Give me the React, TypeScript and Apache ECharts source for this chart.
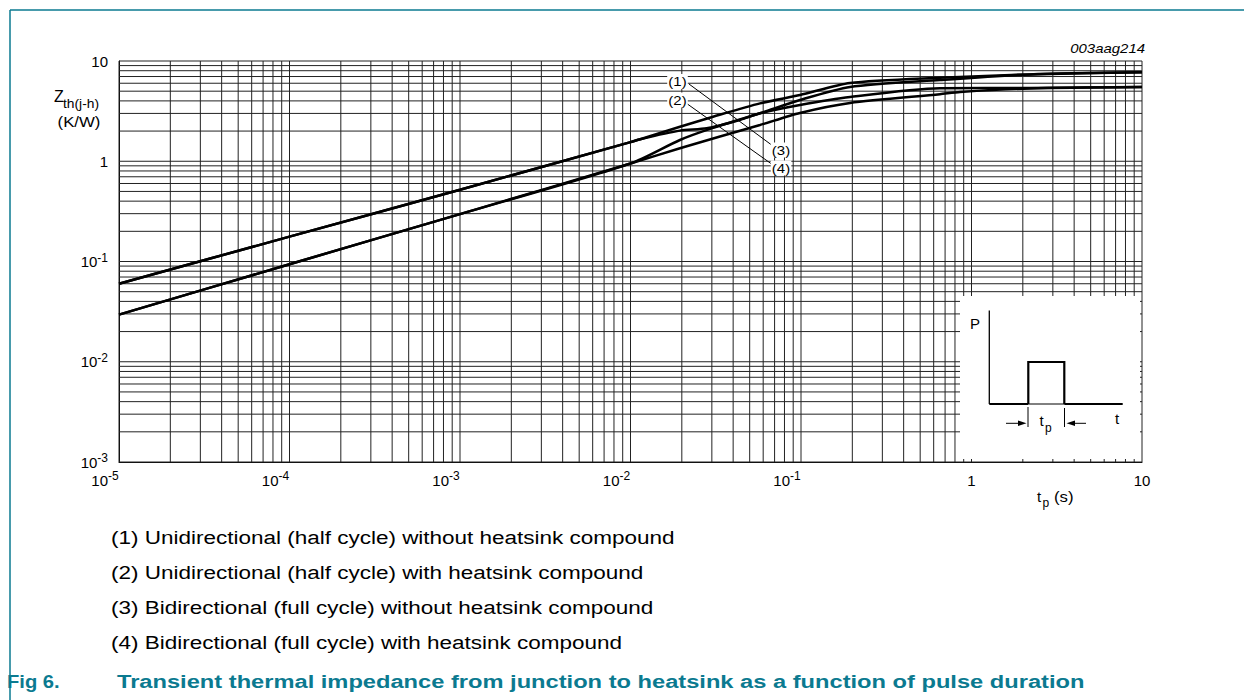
import React, { useEffect, useRef } from 'react';
import * as echarts from 'echarts';

const FONT = '"Liberation Sans", Arial, Helvetica, sans-serif';
const TEAL = '#0b7a90';

// axis limits and decades (exponents of ten) and grid multipliers
const xMin = 1e-5;
const xMax = 10;
const yMin = 1e-3;
const yMax = 10;
const xTickExps = [-5, -4, -3, -2, -1, 0, 1];
const yTickExps = [-3, -2, -1, 0, 1];
const gridMultipliers = [1, 2, 3, 4, 5, 6, 7, 8, 9];

// curve data: pulse duration t_p (s) -> Zth(j-h) (K/W)
const tUniNo = [1e-5, 1e-4, 1e-3, 0.01, 0.0114, 0.0195, 0.0305, 0.0575, 0.0986, 0.194, 0.653, 2.2, 10];
const zUniNo = [0.06, 0.177, 0.52, 1.55, 1.66, 2.21, 2.78, 3.78, 4.58, 6.04, 6.81, 7.35, 7.71];

const tUniWith = [1e-5, 1e-4, 1e-3, 0.01, 0.0114, 0.0195, 0.028, 0.0438, 0.0575, 0.0986, 0.194, 0.653, 2.2, 10];
const zUniWith = [0.06, 0.177, 0.52, 1.55, 1.66, 2.02, 2.13, 2.58, 3.01, 3.64, 4.38, 5.35, 5.38, 5.5];

const tBiNo = [1e-5, 1e-4, 1e-3, 0.01, 0.0195, 0.0305, 0.0575, 0.0986, 0.194, 0.653, 2.2, 10];
const zBiNo = [0.0295, 0.094, 0.297, 0.95, 1.63, 2.15, 3.01, 4.08, 5.51, 6.46, 7.35, 7.71];

const tBiWith = [1e-5, 1e-4, 1e-3, 0.01, 0.0195, 0.0575, 0.0986, 0.194, 0.653, 0.857, 2.2, 10];
const zBiWith = [0.0295, 0.094, 0.297, 0.95, 1.35, 2.3, 3.03, 3.81, 4.66, 4.91, 5.33, 5.5];

const curveNames = ['(1)', '(2)', '(3)', '(4)'];
const legendLines = [
  '(1) Unidirectional (half cycle) without heatsink compound',
  '(2) Unidirectional (half cycle) with heatsink compound',
  '(3) Bidirectional (full cycle) without heatsink compound',
  '(4) Bidirectional (full cycle) with heatsink compound',
];
const captionLabel = 'Fig 6.';
const captionText = 'Transient thermal impedance from junction to heatsink as a function of pulse duration';
const figureCode = '003aag214';

function gridValues(exps: number[]) {
  const out: number[] = [];
  for (let i = 0; i < exps.length - 1; i++) {
    for (const m of gridMultipliers) out.push(m * Math.pow(10, exps[i]));
  }
  out.push(Math.pow(10, exps[exps.length - 1]));
  return out;
}

function txt(x: number, y: number, text: string, o: any = {}) {
  return {
    type: 'text',
    x,
    y,
    z: 110,
    scaleX: o.scaleX ?? 1,
    silent: true,
    style: {
      text,
      fontFamily: FONT,
      fontSize: o.fontSize ?? 14,
      fontWeight: o.fontWeight ?? 'normal',
      fontStyle: o.fontStyle ?? 'normal',
      fill: o.fill ?? '#000',
      align: o.align ?? 'left',
      verticalAlign: 'middle',
      backgroundColor: o.bg,
      padding: o.bg ? [1, 1] : undefined,
    },
  };
}

function seg(x1: number, y1: number, x2: number, y2: number, w = 1, color = '#000', z = 105) {
  return { type: 'line', z, silent: true, shape: { x1, y1, x2, y2 }, style: { stroke: color, lineWidth: w } };
}

export default function App() {
  const ref = useRef<HTMLDivElement>(null);

  useEffect(() => {
    const chart = echarts.init(ref.current!, null, { renderer: 'svg' });

    const labelRich = {
      b: { fontSize: 15, fontFamily: FONT, color: '#000', lineHeight: 20 },
      s: { fontSize: 12, fontFamily: FONT, color: '#000', lineHeight: 10, verticalAlign: 'top' },
      q: { width: 28, fontSize: 15, lineHeight: 20 },
    };
    // x labels: powers below 1 sit to the left of their tick, 1 and 10 are centred on it
    const fmtX = (v: number) => {
      const e = Math.round(Math.log10(v));
      if (xTickExps.indexOf(e) < 0) return '';
      if (e === 0) return '{b|1}';
      if (e === 1) return '{b|10}';
      return '{b|10}{s|' + e + '}{q| }';
    };
    const fmtY = (v: number) => {
      const e = Math.round(Math.log10(v));
      if (yTickExps.indexOf(e) < 0) return '';
      if (e === 0) return '{b|1}';
      if (e === 1) return '{b|10}';
      return '{b|10}{s|' + e + '}';
    };

    const vGrid = gridValues(xTickExps);
    const hGrid = gridValues(yTickExps);

    const mk = (t: number[], z: number[], name: string) => ({
      type: 'line',
      name,
      data: t.map((tv, i) => [tv, z[i]]),
      showSymbol: false,
      symbol: 'none',
      smooth: 0.25,
      silent: true,
      z: 5,
      lineStyle: { color: '#000', width: 2.5 },
    });

    const graphics: any[] = [
      // page frame
      seg(10, 10, 1244, 10, 1.5, TEAL, 120),
      seg(10, 10, 10, 700, 1.5, TEAL, 120),
      // inset background
      { type: 'rect', z: 100, silent: true, shape: { x: 960, y: 296, width: 180, height: 163 }, style: { fill: '#fff' } },
      // inset drawing
      seg(989.3, 310.5, 989.3, 404, 1.3),
      seg(989.3, 404, 1028.3, 404, 2.2),
      seg(1028.3, 404, 1064.3, 404, 1),
      seg(1064.3, 404, 1122.7, 404, 2.2),
      {
        type: 'polyline', z: 105, silent: true,
        shape: { points: [[1028.3, 404], [1028.3, 362], [1064.3, 362], [1064.3, 404]] },
        style: { stroke: '#000', lineWidth: 2.2, fill: null },
      },
      seg(1006, 423.3, 1019, 423.3, 1),
      { type: 'polygon', z: 105, silent: true, shape: { points: [[1026.5, 423.3], [1018, 420.6], [1018, 426]] }, style: { fill: '#000' } },
      seg(1028, 407, 1028, 427, 1),
      seg(1064.5, 408, 1064.5, 427, 1),
      { type: 'polygon', z: 105, silent: true, shape: { points: [[1066.5, 423.3], [1075, 420.6], [1075, 426]] }, style: { fill: '#000' } },
      seg(1074, 423.3, 1086, 423.3, 1),
      txt(970, 323, 'P', { fontSize: 15 }),
      txt(1115, 418, 't', { fontSize: 15 }),
      txt(1039.5, 420, 't', { fontSize: 15 }),
      txt(1045, 428, 'p', { fontSize: 12 }),
      // leader lines and curve labels
      seg(689, 84, 773, 146, 1, '#000', 104),
      seg(686, 103, 773, 165, 1, '#000', 104),
      txt(677.5, 81.5, curveNames[0], { fontSize: 13, align: 'center', scaleX: 1.15, bg: '#fff' }),
      txt(677.5, 100, curveNames[1], { fontSize: 13, align: 'center', scaleX: 1.15, bg: '#fff' }),
      txt(781, 150, curveNames[2], { fontSize: 13, align: 'center', scaleX: 1.15, bg: '#fff' }),
      txt(781, 168, curveNames[3], { fontSize: 13, align: 'center', scaleX: 1.15, bg: '#fff' }),
      // axis titles
      txt(54, 96, 'Z', { fontSize: 16 }),
      txt(63, 104, 'th(j-h)', { fontSize: 12, scaleX: 1.15 }),
      txt(79, 122, '(K/W)', { fontSize: 15, align: 'center', scaleX: 1.12 }),
      txt(1037, 496, 't', { fontSize: 15 }),
      txt(1042.5, 503, 'p', { fontSize: 12 }),
      txt(1054, 497, '(s)', { fontSize: 15, scaleX: 1.12 }),
      txt(1145, 48, figureCode, { fontSize: 13, fontStyle: 'italic', align: 'right', scaleX: 1.15 }),
      // legend lines
      ...legendLines.map((l, i) => txt(111, [538, 573, 608, 643][i], l, { fontSize: 18, scaleX: 1.25 })),
      // caption
      txt(7, 682, captionLabel, { fontSize: 18, fontWeight: 'bold', fill: TEAL, scaleX: 1.12 }),
      txt(117, 682, captionText, { fontSize: 18, fontWeight: 'bold', fill: TEAL, scaleX: 1.315 }),
    ];

    const gridData = [
      ...vGrid.map((v) => [v, yMin, 0]),
      ...hGrid.map((v) => [xMin, v, 1]),
    ];

    const option: any = {
      animation: false,
      backgroundColor: '#fff',
      grid: { left: 119, top: 61, width: 1023, height: 401, containLabel: false },
      xAxis: {
        type: 'log',
        logBase: 10,
        min: xMin,
        max: xMax,
        axisLine: { show: true, lineStyle: { color: '#000', width: 1 } },
        axisTick: { show: false },
        splitLine: { show: false },
        minorTick: { show: false },
        axisLabel: {
          formatter: fmtX,
          rich: labelRich,
          align: 'center',
          margin: 8,
          color: '#000',
          showMinLabel: true,
          showMaxLabel: true,
          hideOverlap: false,
        },
      },
      yAxis: {
        type: 'log',
        logBase: 10,
        min: yMin,
        max: yMax,
        axisLine: { show: true, lineStyle: { color: '#000', width: 1 } },
        axisTick: { show: false },
        splitLine: { show: false },
        axisLabel: {
          formatter: fmtY,
          rich: labelRich,
          margin: 11,
          color: '#000',
          showMinLabel: true,
          showMaxLabel: true,
        },
      },
      series: [
        {
          type: 'custom',
          name: 'grid',
          z: 1,
          silent: true,
          clip: false,
          data: gridData,
          renderItem: (_p: any, api: any) => {
            const vertical = api.value(2) === 0;
            const a = vertical ? api.coord([api.value(0), yMin]) : api.coord([xMin, api.value(1)]);
            const b = vertical ? api.coord([api.value(0), yMax]) : api.coord([xMax, api.value(1)]);
            return {
              type: 'line',
              shape: { x1: a[0], y1: a[1], x2: b[0], y2: b[1] },
              style: { stroke: '#222', lineWidth: 1 },
            };
          },
        },
        mk(tUniNo, zUniNo, legendLines[0]),
        mk(tUniWith, zUniWith, legendLines[1]),
        mk(tBiNo, zBiNo, legendLines[2]),
        mk(tBiWith, zBiWith, legendLines[3]),
      ],
      graphic: graphics,
    };

    chart.setOption(option);
    return () => chart.dispose();
  }, []);

  return (
    <div
      ref={ref}
      style={{ position: 'absolute', left: 0, top: 0, width: 1244, height: 700, background: '#fff' }}
    />
  );
}
